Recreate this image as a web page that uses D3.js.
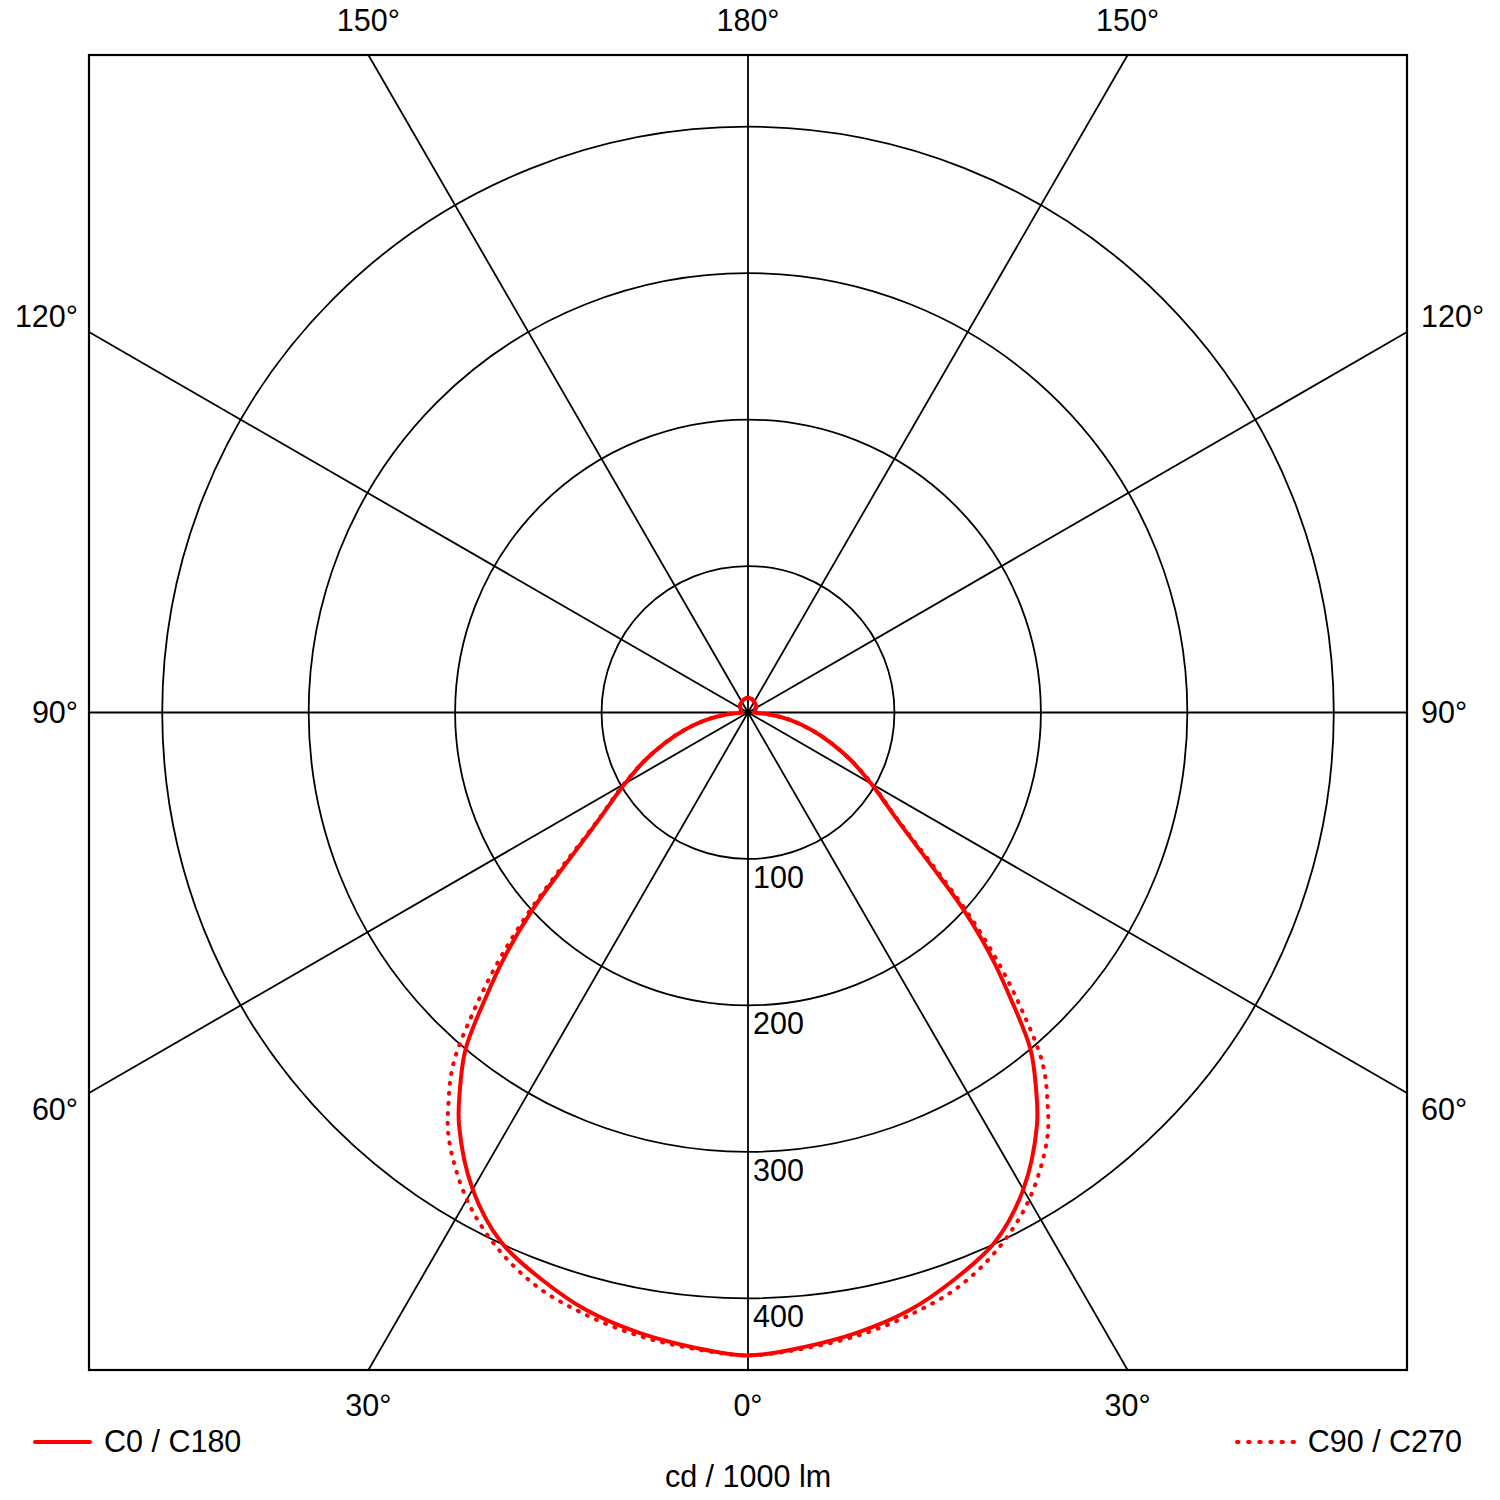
<!DOCTYPE html>
<html>
<head>
<meta charset="utf-8">
<script src="https://cdn.jsdelivr.net/npm/d3@7"></script>
<style>
  html, body { margin: 0; padding: 0; background: #fff; }
  text { font-family: "Liberation Sans", Arial, sans-serif; fill: #000; }
</style>
</head>
<body>
<svg id="chart" width="1500" height="1500"></svg>
<script>
// ---- data (cd / 1000 lm), gamma angle measured from nadir (0° = down) ----
const gammaAngles = [0, 5, 10, 15, 20, 25, 30, 35, 37.5, 40, 42.5, 45, 47.5, 50, 52.5, 55, 57.5, 60, 65, 70, 75, 80, 85, 90, 95, 105, 120, 135, 150, 165, 180];
const c0c180 =      [439, 435, 430, 423, 412, 399, 376, 344, 323, 300, 266, 234, 200, 165, 139, 121, 108, 97, 78, 60, 44, 29, 14, 4, 4, 5, 6, 7.5, 8.5, 9.5, 10];
const c90c270 =     [439, 436, 432, 426, 418, 404, 384, 356, 336, 313, 278, 242, 205, 169, 141, 122, 109, 98, 78, 60, 44, 29, 14, 4, 4, 5, 6, 7.5, 8.5, 9.5, 10];
const ringValues = [100, 200, 300, 400];
const spokeAngles = [0, 30, 60, 90, 120, 150, 180, 210, 240, 270, 300, 330];
const topLabels = ["150°", "180°", "150°"];
const bottomLabels = ["30°", "0°", "30°"];
const sideLabels = ["120°", "90°", "60°"];
const legendLabels = ["C0 / C180", "C90 / C270"];
const unitLabel = "cd / 1000 lm";

// ---- layout ----
const svg = d3.select("#chart");
const frame = { x0: 89, y0: 55, x1: 1407, y1: 1370 };
const cx = (frame.x0 + frame.x1) / 2, cy = (frame.y0 + frame.y1) / 2;
const r = d3.scaleLinear().domain([0, 450]).range([0, 659]);
const FS = 30.5;
const GW = 1.8;

const g = svg.append("g").attr("transform", `translate(${cx},${cy})`);

// rings
g.selectAll("circle.ring").data(ringValues).join("circle")
  .attr("class", "ring").attr("r", d => r(d))
  .attr("fill", "none").attr("stroke", "#000").attr("stroke-width", GW);

// spokes clipped to the frame
svg.append("clipPath").attr("id", "fclip").append("rect")
  .attr("x", frame.x0 - cx).attr("y", frame.y0 - cy)
  .attr("width", frame.x1 - frame.x0).attr("height", frame.y1 - frame.y0);
const L = 2000;
g.append("g").attr("clip-path", "url(#fclip)")
  .selectAll("line").data(spokeAngles).join("line")
  .attr("x1", 0).attr("y1", 0)
  .attr("x2", d => L * Math.sin(d * Math.PI / 180))
  .attr("y2", d => L * Math.cos(d * Math.PI / 180))
  .attr("stroke", "#000").attr("stroke-width", GW);

// ring labels
g.selectAll("text.rl").data(ringValues).join("text")
  .attr("class", "rl")
  .attr("x", 5).attr("y", d => r(d) + 29)
  .attr("font-size", FS).text(d => d);

// curves
const toPoints = vals => {
  const pts = [];
  // right half: gamma 180 -> 0 (angle 0 -> PI)
  for (let i = gammaAngles.length - 1; i >= 0; i--) {
    pts.push([Math.PI - gammaAngles[i] * Math.PI / 180, r(vals[i])]);
  }
  // left half: gamma 5 -> 175 (angle PI+ -> 2PI-)
  for (let i = 1; i < gammaAngles.length - 1; i++) {
    pts.push([Math.PI + gammaAngles[i] * Math.PI / 180, r(vals[i])]);
  }
  return pts;
};
const radial = d3.lineRadial().angle(d => d[0]).radius(d => d[1])
  .curve(d3.curveCatmullRomClosed.alpha(0.5));

g.append("path").attr("d", radial(toPoints(c90c270)))
  .attr("fill", "none").attr("stroke", "#ff0000").attr("stroke-width", 4)
  .attr("stroke-dasharray", "1 9").attr("stroke-linecap", "round");
g.append("path").attr("d", radial(toPoints(c0c180)))
  .attr("fill", "none").attr("stroke", "#ff0000").attr("stroke-width", 4);

// frame
svg.append("rect").attr("x", frame.x0).attr("y", frame.y0)
  .attr("width", frame.x1 - frame.x0).attr("height", frame.y1 - frame.y0)
  .attr("fill", "none").attr("stroke", "#000").attr("stroke-width", 2.2);

// top / bottom angle labels
const halfH = frame.y1 - cy;
const topX = [cx - halfH * Math.tan(Math.PI / 6), cx, cx + halfH * Math.tan(Math.PI / 6)];
svg.selectAll("text.tl").data(topLabels).join("text").attr("class", "tl")
  .attr("x", (d, i) => topX[i]).attr("y", 31)
  .attr("text-anchor", "middle").attr("font-size", FS).text(d => d);
svg.selectAll("text.bl").data(bottomLabels).join("text").attr("class", "bl")
  .attr("x", (d, i) => topX[i]).attr("y", 1416)
  .attr("text-anchor", "middle").attr("font-size", FS).text(d => d);

// side labels
const sideY = [cy - 396, cy, cy + 397];
svg.selectAll("text.sl").data(sideLabels).join("text").attr("class", "sl")
  .attr("x", 78).attr("y", (d, i) => sideY[i] + 10)
  .attr("text-anchor", "end").attr("font-size", FS).text(d => d);
svg.selectAll("text.sr").data(sideLabels).join("text").attr("class", "sr")
  .attr("x", 1421).attr("y", (d, i) => sideY[i] + 10)
  .attr("text-anchor", "start").attr("font-size", FS).text(d => d);

// legend
svg.append("line").attr("x1", 35).attr("x2", 90).attr("y1", 1442).attr("y2", 1442)
  .attr("stroke", "#ff0000").attr("stroke-width", 4).attr("stroke-linecap", "round");
svg.append("text").attr("x", 104).attr("y", 1452).attr("font-size", FS).text(legendLabels[0]);
svg.append("line").attr("x1", 1237).attr("x2", 1294).attr("y1", 1442).attr("y2", 1442)
  .attr("stroke", "#ff0000").attr("stroke-width", 4)
  .attr("stroke-dasharray", "1.5 9.6").attr("stroke-linecap", "round");
svg.append("text").attr("x", 1462).attr("y", 1452).attr("text-anchor", "end")
  .attr("font-size", FS).text(legendLabels[1]);

svg.append("text").attr("x", cx).attr("y", 1487).attr("text-anchor", "middle")
  .attr("font-size", FS).text(unitLabel);
</script>
</body>
</html>
